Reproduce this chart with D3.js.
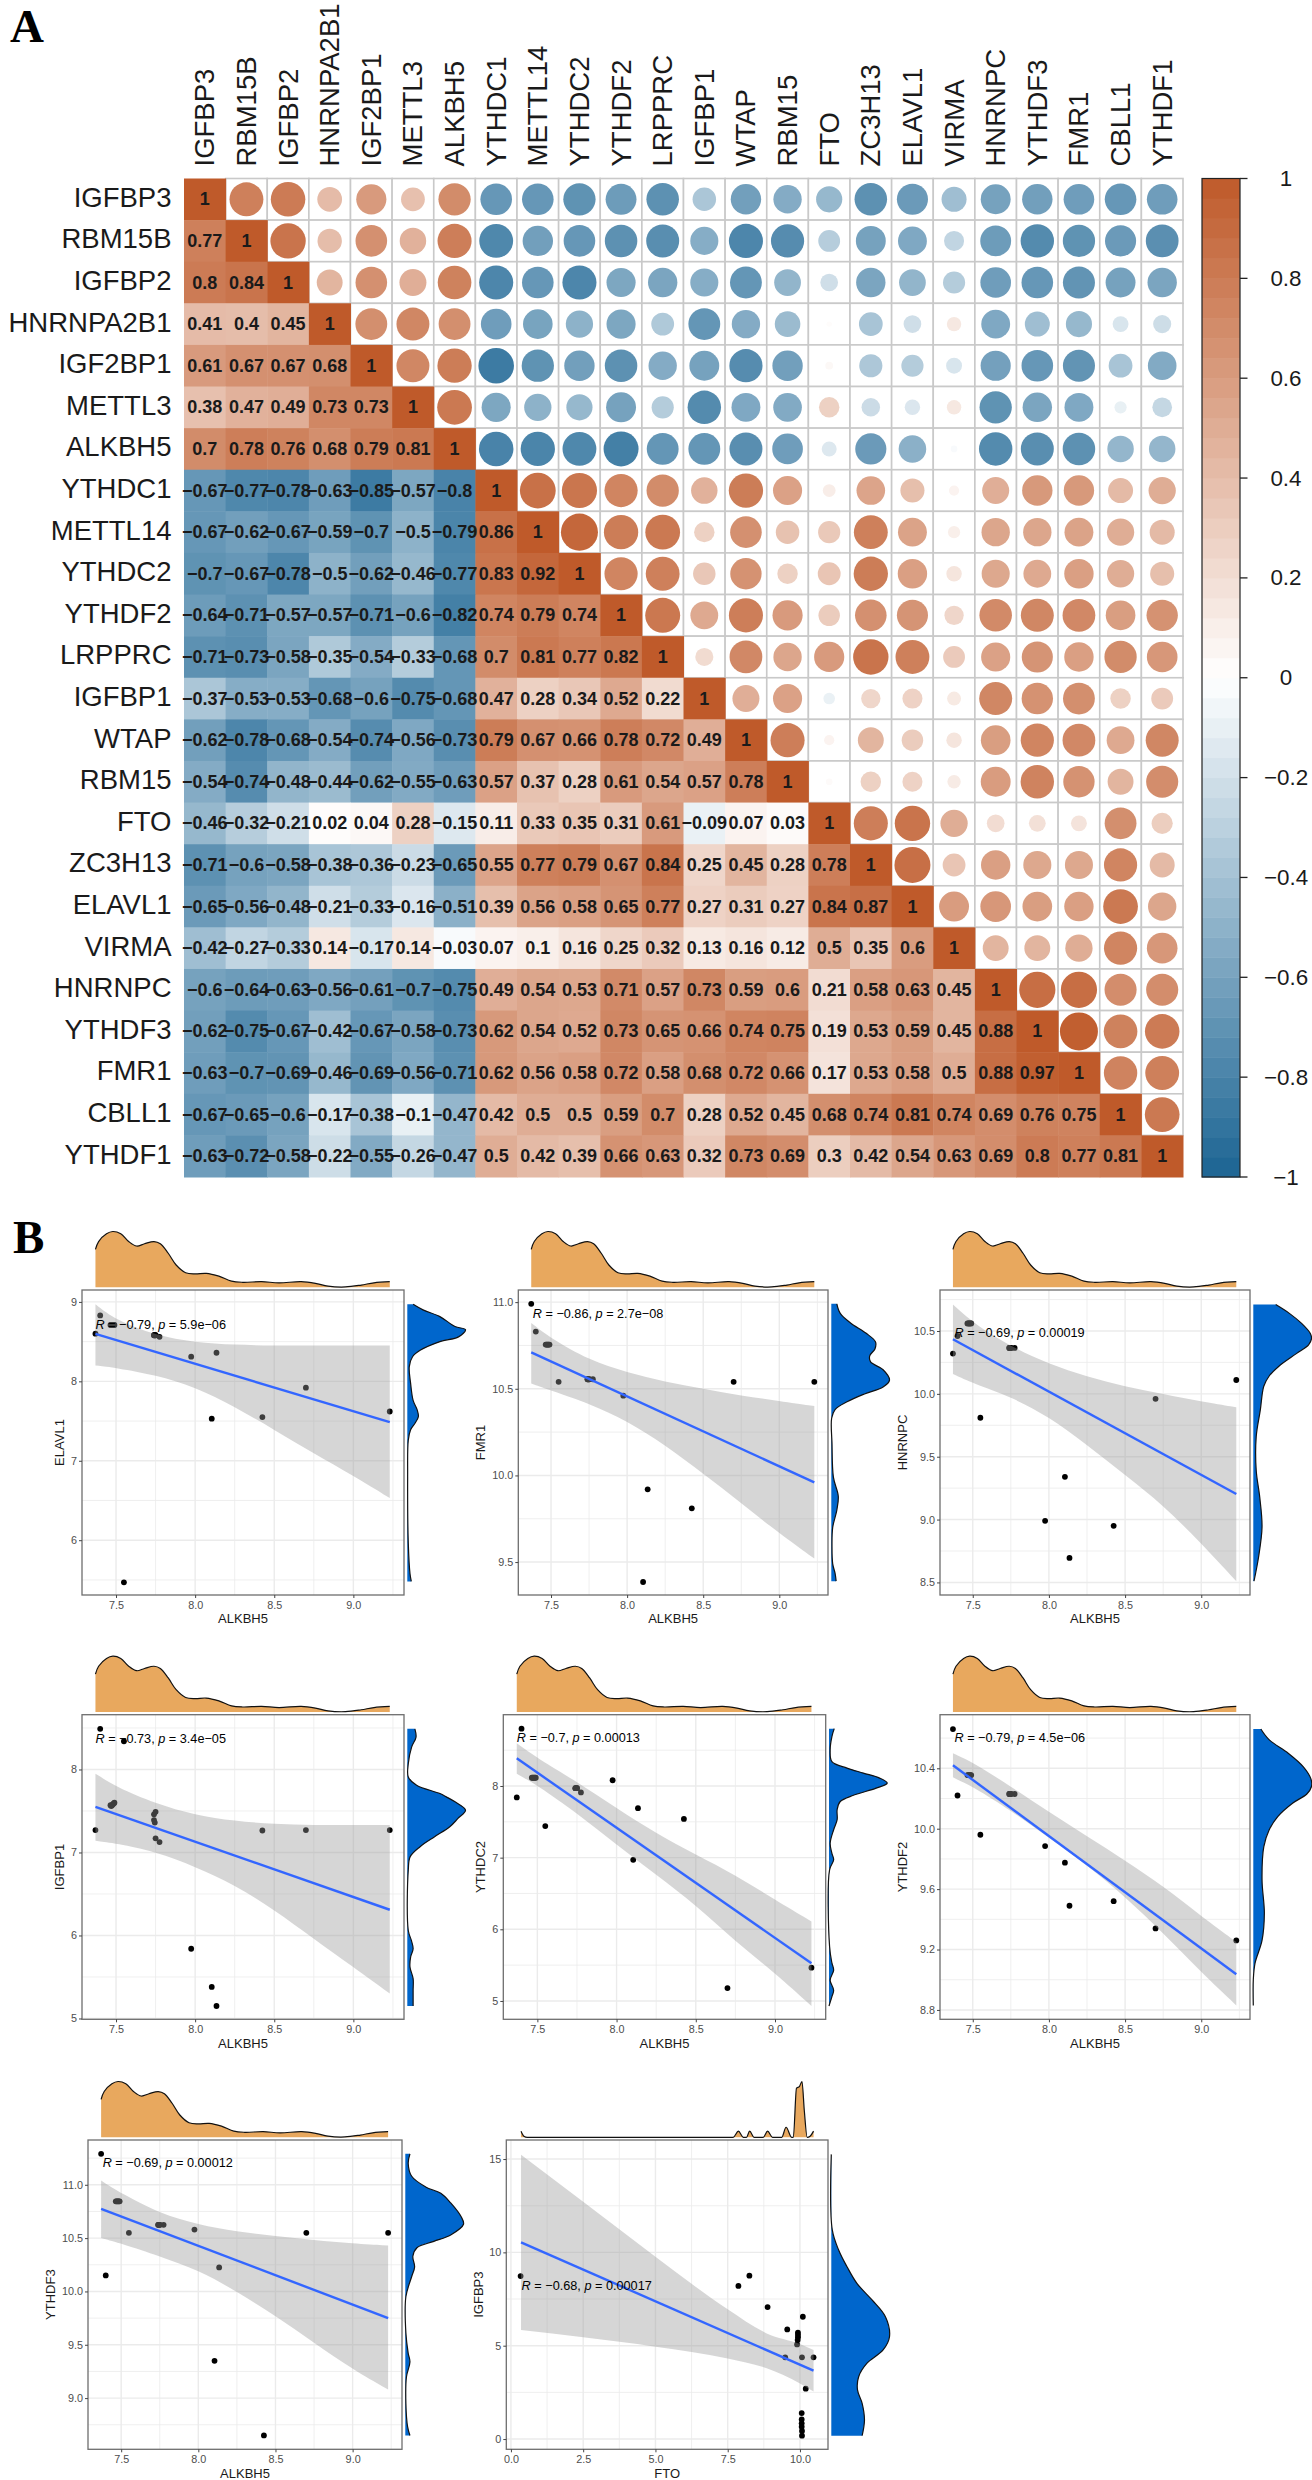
<!DOCTYPE html>
<html>
<head>
<meta charset="utf-8">
<script src="https://cdn.jsdelivr.net/npm/d3@7"></script>
<style>
body { margin: 0; background: #fff; }
text { font-family: "Liberation Sans", Arial, sans-serif; }
</style>
</head>
<body>
<svg id="chart" width="1312" height="2480"></svg>
<script>
// Panel A: genes and lower triangle of the correlation matrix
var genes = ["IGFBP3","RBM15B","IGFBP2","HNRNPA2B1","IGF2BP1","METTL3","ALKBH5","YTHDC1","METTL14","YTHDC2","YTHDF2","LRPPRC","IGFBP1","WTAP","RBM15","FTO","ZC3H13","ELAVL1","VIRMA","HNRNPC","YTHDF3","FMR1","CBLL1","YTHDF1"];
var corr = [
  [1],
  [0.77,1],
  [0.8,0.84,1],
  [0.41,0.4,0.45,1],
  [0.61,0.67,0.67,0.68,1],
  [0.38,0.47,0.49,0.73,0.73,1],
  [0.7,0.78,0.76,0.68,0.79,0.81,1],
  [-0.67,-0.77,-0.78,-0.63,-0.85,-0.57,-0.8,1],
  [-0.67,-0.62,-0.67,-0.59,-0.7,-0.5,-0.79,0.86,1],
  [-0.7,-0.67,-0.78,-0.5,-0.62,-0.46,-0.77,0.83,0.92,1],
  [-0.64,-0.71,-0.57,-0.57,-0.71,-0.6,-0.82,0.74,0.79,0.74,1],
  [-0.71,-0.73,-0.58,-0.35,-0.54,-0.33,-0.68,0.7,0.81,0.77,0.82,1],
  [-0.37,-0.53,-0.53,-0.68,-0.6,-0.75,-0.68,0.47,0.28,0.34,0.52,0.22,1],
  [-0.62,-0.78,-0.68,-0.54,-0.74,-0.56,-0.73,0.79,0.67,0.66,0.78,0.72,0.49,1],
  [-0.54,-0.74,-0.48,-0.44,-0.62,-0.55,-0.63,0.57,0.37,0.28,0.61,0.54,0.57,0.78,1],
  [-0.46,-0.32,-0.21,0.02,0.04,0.28,-0.15,0.11,0.33,0.35,0.31,0.61,-0.09,0.07,0.03,1],
  [-0.71,-0.6,-0.58,-0.38,-0.36,-0.23,-0.65,0.55,0.77,0.79,0.67,0.84,0.25,0.45,0.28,0.78,1],
  [-0.65,-0.56,-0.48,-0.21,-0.33,-0.16,-0.51,0.39,0.56,0.58,0.65,0.77,0.27,0.31,0.27,0.84,0.87,1],
  [-0.42,-0.27,-0.33,0.14,-0.17,0.14,-0.03,0.07,0.1,0.16,0.25,0.32,0.13,0.16,0.12,0.5,0.35,0.6,1],
  [-0.6,-0.64,-0.63,-0.56,-0.61,-0.7,-0.75,0.49,0.54,0.53,0.71,0.57,0.73,0.59,0.6,0.21,0.58,0.63,0.45,1],
  [-0.62,-0.75,-0.67,-0.42,-0.67,-0.58,-0.73,0.62,0.54,0.52,0.73,0.65,0.66,0.74,0.75,0.19,0.53,0.59,0.45,0.88,1],
  [-0.63,-0.7,-0.69,-0.46,-0.69,-0.56,-0.71,0.62,0.56,0.58,0.72,0.58,0.68,0.72,0.66,0.17,0.53,0.58,0.5,0.88,0.97,1],
  [-0.67,-0.65,-0.6,-0.17,-0.38,-0.1,-0.47,0.42,0.5,0.5,0.59,0.7,0.28,0.52,0.45,0.68,0.74,0.81,0.74,0.69,0.76,0.75,1],
  [-0.63,-0.72,-0.58,-0.22,-0.55,-0.26,-0.47,0.5,0.42,0.39,0.66,0.63,0.32,0.73,0.69,0.3,0.42,0.54,0.63,0.69,0.8,0.77,0.81,1]
];
var legendTicks = [1,0.8,0.6,0.4,0.2,0,-0.2,-0.4,-0.6,-0.8,-1];

// Panel B: expression of each sample, x is ALKBH5
var alkbh5 = [7.37,7.40,7.465,7.47,7.475,7.48,7.485,7.49,7.55,7.74,7.74,7.745,7.75,7.75,7.775,7.975,8.105,8.135,8.425,8.70,9.23];
var elavl1 = [8.60,8.83,8.71,8.71,8.71,8.71,8.71,8.71,5.47,8.58,8.58,8.58,8.58,8.58,8.56,8.31,7.53,8.36,7.55,7.92,7.62];
var fmr1 = [10.99,10.83,10.755,10.755,10.755,10.755,10.755,10.755,10.54,10.555,10.555,10.555,10.555,10.555,10.555,10.46,9.385,9.92,9.81,10.54,10.54];
var hnrnpc = [10.32,10.46,10.56,10.56,10.56,10.56,10.56,10.56,9.81,10.365,10.365,10.365,10.365,10.365,10.365,8.99,9.34,8.695,8.95,9.96,10.11];
var igfbp1 = [7.27,8.49,7.57,7.56,7.57,7.58,7.59,7.60,8.34,7.46,7.39,7.36,7.49,7.17,7.125,5.84,5.38,5.15,7.265,7.27,7.27];
var ythdc2 = [7.84,8.80,8.115,8.115,8.115,8.115,8.115,8.115,7.44,7.97,7.97,7.97,7.97,7.97,7.91,8.08,6.97,7.69,7.54,5.18,5.465];
var ythdf2 = [10.66,10.22,10.355,10.355,10.355,10.355,10.355,10.355,9.96,10.23,10.23,10.23,10.23,10.23,10.23,9.885,9.775,9.49,9.52,9.34,9.26];
var ythdf3 = [11.29,10.15,10.845,10.845,10.845,10.845,10.845,10.845,10.55,10.625,10.625,10.625,10.625,10.625,10.625,10.58,9.35,10.225,8.65,10.55,10.55];

// IGFBP3 against FTO
var ftoX = [0.335,7.87,8.25,8.88,10.1,9.56,9.93,9.93,9.93,9.92,9.9,9.49,10.07,10.47,10.2,10.06,10.06,10.06,10.06,10.07,10.07];
var igfbp3Y = [8.73,8.2,8.75,7.07,6.55,5.87,5.7,5.57,5.45,5.3,5.07,4.375,4.375,4.375,2.7,1.39,1.05,0.84,0.66,0.43,0.18];

// Regression lines, read at the two ends of x
var alkbh5Ends = [7.37,9.23];
var elavl1Fit = [8.597,7.487];
var fmr1Fit = [10.71,9.96];
var hnrnpcFit = [10.434,9.203];
var igfbp1Fit = [7.55,6.31];
var ythdc2Fit = [8.386,5.526];
var ythdf2Fit = [10.42,9.036];
var ythdf3Fit = [10.775,9.75];
var ftoEnds = [0.35,10.47];
var igfbp3Fit = [10.54,3.66];

// Confidence bands
var ciX = [7.37,7.5,7.75,8.0,8.25,8.5,8.75,9.0,9.23];
var elavl1Hi = [8.97,8.77,8.58,8.49,8.46,8.45,8.45,8.45,8.45];
var elavl1Lo = [8.20,8.17,8.08,7.93,7.68,7.39,7.09,6.81,6.53];
var fmr1Hi = [10.88,10.79,10.665,10.595,10.54,10.50,10.46,10.43,10.40];
var fmr1Lo = [10.53,10.49,10.415,10.315,10.175,10.01,9.84,9.665,9.52];
var hnrnpcHi = [10.71,10.566,10.375,10.237,10.137,10.057,9.999,9.938,9.893];
var hnrnpcLo = [10.158,10.084,9.977,9.818,9.593,9.354,9.115,8.81,8.51];
var igfbp1Hi = [7.95,7.79,7.59,7.45,7.38,7.34,7.33,7.33,7.33];
var igfbp1Lo = [7.14,7.11,7.01,6.83,6.61,6.31,5.96,5.62,5.30];
var ythdc2Hi = [8.595,8.386,8.06,7.69,7.34,7.04,6.76,6.41,6.11];
var ythdc2Lo = [8.17,8.01,7.62,7.18,6.76,6.34,5.83,5.39,4.93];
var ythdf2Hi = [10.50,10.44,10.28,10.11,9.95,9.79,9.62,9.42,9.25];
var ythdf2Lo = [10.34,10.28,10.12,9.94,9.76,9.55,9.31,9.05,8.83];
var ythdf3Hi = [11.04,10.92,10.73,10.625,10.56,10.52,10.48,10.45,10.43];
var ythdf3Lo = [10.5,10.45,10.33,10.20,10.0,9.77,9.52,9.27,9.08];
var ftoCiX = [0.35,2.5,5,7.5,8.85,10,10.47];
var igfbp3Hi = [15.23,12.71,9.77,6.95,5.66,5.09,4.77];
var igfbp3Lo = [5.84,5.45,4.95,4.32,3.79,2.98,2.54];

// Marginal densities on the top (share of the peak)
var topAlkbh5X = [7.37,7.39,7.44,7.48,7.53,7.58,7.63,7.68,7.74,7.78,7.83,7.88,7.94,8.0,8.07,8.15,8.23,8.30,8.42,8.53,8.67,8.76,8.84,8.95,9.05,9.13,9.23];
var topAlkbh5D = [0.68,0.82,0.96,1,0.96,0.82,0.74,0.78,0.82,0.78,0.61,0.40,0.26,0.24,0.25,0.20,0.11,0.09,0.10,0.08,0.10,0.07,0.02,0.006,0.04,0.08,0.10];
var topFtoX = [0.35,0.45,0.565,7.69,7.87,8.04,8.15,8.26,8.41,8.73,8.88,9.05,9.37,9.52,9.71,9.77,9.88,9.98,10.07,10.15,10.25,10.35,10.47];
var topFtoD = [0.11,0.02,0,0,0.11,0,0,0.11,0,0,0.11,0,0,0.18,0,0,0.88,0.91,1,0.48,0,0.02,0.11];

// Marginal densities on the right
var elavl1DensY = [8.97,8.90,8.815,8.69,8.65,8.56,8.50,8.39,8.31,8.185,7.975,7.76,7.64,7.555,7.47,7.39,7.26,6.80,5.96,5.58,5.48];
var elavl1Dens = [0.10,0.27,0.56,0.82,1,0.88,0.56,0.22,0.09,0.034,0.057,0.10,0.17,0.19,0.13,0.057,0.017,0.006,0.017,0.046,0.069];
var fmr1DensY = [10.99,10.935,10.88,10.82,10.77,10.73,10.69,10.655,10.61,10.55,10.51,10.47,10.425,10.38,10.33,10.185,9.99,9.88,9.8,9.70,9.59,9.49,9.435,9.39];
var fmr1Dens = [0.095,0.154,0.33,0.60,0.76,0.75,0.66,0.675,0.89,1,0.89,0.57,0.27,0.065,0.006,0.012,0.036,0.12,0.095,0.024,0.012,0.024,0.065,0.083];
var hnrnpcDensY = [10.71,10.64,10.56,10.48,10.44,10.39,10.32,10.22,10.14,10.06,9.87,9.66,9.39,9.18,8.94,8.70,8.51];
var hnrnpcDens = [0.385,0.62,0.83,0.98,1,0.95,0.74,0.44,0.27,0.18,0.12,0.05,0.05,0.11,0.15,0.09,0.012];
var igfbp1DensY = [8.49,8.39,8.27,8.07,7.91,7.81,7.71,7.67,7.61,7.51,7.41,7.31,7.19,7.07,6.95,6.79,6.06,5.94,5.84,5.74,5.62,5.48,5.34,5.15];
var igfbp1Dens = [0.13,0.15,0.074,0.017,0.017,0.16,0.56,0.67,0.82,1,0.87,0.73,0.47,0.22,0.05,0.017,0.017,0.07,0.10,0.057,0.046,0.10,0.10,0.10];
var ythdc2DensY = [8.80,8.69,8.50,8.34,8.25,8.18,8.11,8.04,7.97,7.87,7.78,7.67,7.53,7.39,7.20,7.06,6.97,6.83,5.76,5.53,5.43,5.29,5.15,5.06,4.93];
var ythdc2Dens = [0.09,0.05,0.02,0.05,0.31,0.59,0.87,1,0.81,0.42,0.19,0.14,0.14,0.08,0.02,0.05,0.08,0.01,0.01,0.05,0.08,0.02,0.08,0.05,0];
var ythdf2DensY = [10.66,10.59,10.50,10.41,10.33,10.28,10.23,10.17,10.08,9.99,9.88,9.66,9.44,9.26,9.11,9.00,8.83];
var ythdf2Dens = [0.13,0.27,0.60,0.86,0.99,1,0.92,0.68,0.42,0.27,0.18,0.15,0.19,0.15,0.03,0,0];
var ythdf3DensY = [11.29,11.20,11.08,10.98,10.92,10.83,10.70,10.63,10.53,10.47,10.41,10.33,10.23,10.14,9.95,9.61,9.42,9.34,9.20,8.95,8.73,8.65];
var ythdf3Dens = [0.08,0.05,0.11,0.35,0.61,0.78,0.96,1,0.78,0.49,0.20,0.13,0.16,0.11,0.01,0.01,0.05,0.08,0.02,0.01,0.04,0.08];
var igfbp3DensY = [15.25,11.2,10.1,9.23,8.34,7.45,6.55,5.48,4.77,4.05,3.34,2.63,1.91,1.02,0.18];
var igfbp3Dens = [0,0.017,0.13,0.27,0.44,0.70,0.93,1,0.89,0.61,0.47,0.45,0.53,0.57,0.53];

// Axis ticks
var alkbh5Ticks = [7.5,8.0,8.5,9.0];
var ftoTicks = [0,2.5,5,7.5,10];

var svg = d3.select("#chart");
var textColor = "#1a1a1a";

// Shared colour ramp for the matrix and the legend
var corrColor = d3.scaleLinear().domain([-1,0,1]).range(["#1B6493","#FFFFFF","#BF5A2A"]);

drawLetter("A",10,42);
drawLetter("B",13,1253);
drawMatrix();
drawLegend();

// Each scatter panel is listed once here, with its box on the page
var panels = [
  {name:"ELAVL1",x:alkbh5,y:elavl1,fitX:alkbh5Ends,fit:elavl1Fit,bandX:ciX,hi:elavl1Hi,lo:elavl1Lo,topX:topAlkbh5X,topD:topAlkbh5D,sideY:elavl1DensY,side:elavl1Dens,
   xTitle:"ALKBH5",xDom:[7.285,9.32],yDom:[5.31,9.15],xTicks:alkbh5Ticks,yTicks:[6,7,8,9],yFmt:"d",xFmt:".1f",r:"\u22120.79",p:"5.9e\u221206",label:[7.37,8.71],
   box:[82,404,1290,1595],titleX:59.3,titleY:1618},
  {name:"FMR1",x:alkbh5,y:fmr1,fitX:alkbh5Ends,fit:fmr1Fit,bandX:ciX,hi:fmr1Hi,lo:fmr1Lo,topX:topAlkbh5X,topD:topAlkbh5D,sideY:fmr1DensY,side:fmr1Dens,
   xTitle:"ALKBH5",xDom:[7.285,9.32],yDom:[9.31,11.07],xTicks:alkbh5Ticks,yTicks:[9.5,10,10.5,11],yFmt:".1f",xFmt:".1f",r:"\u22120.86",p:"2.7e\u221208",label:[7.38,10.93],
   box:[518.3,828,1290,1595],titleX:480.7,titleY:1618},
  {name:"HNRNPC",x:alkbh5,y:hnrnpc,fitX:alkbh5Ends,fit:hnrnpcFit,bandX:ciX,hi:hnrnpcHi,lo:hnrnpcLo,topX:topAlkbh5X,topD:topAlkbh5D,sideY:hnrnpcDensY,side:hnrnpcDens,
   xTitle:"ALKBH5",xDom:[7.285,9.32],yDom:[8.40,10.826],xTicks:alkbh5Ticks,yTicks:[8.5,9,9.5,10,10.5],yFmt:".1f",xFmt:".1f",r:"\u22120.69",p:"0.00019",label:[7.38,10.48],
   box:[940,1250,1290,1595],titleX:902.7,titleY:1618},
  {name:"IGFBP1",x:alkbh5,y:igfbp1,fitX:alkbh5Ends,fit:igfbp1Fit,bandX:ciX,hi:igfbp1Hi,lo:igfbp1Lo,topX:topAlkbh5X,topD:topAlkbh5D,sideY:igfbp1DensY,side:igfbp1Dens,
   xTitle:"ALKBH5",xDom:[7.285,9.32],yDom:[4.99,8.66],xTicks:alkbh5Ticks,yTicks:[5,6,7,8],yFmt:"d",xFmt:".1f",r:"\u22120.73",p:"3.4e\u221205",label:[7.37,8.37],
   box:[82,404,1714.7,2019.3],titleX:59.3,titleY:2043},
  {name:"YTHDC2",x:alkbh5,y:ythdc2,fitX:alkbh5Ends,fit:ythdc2Fit,bandX:ciX,hi:ythdc2Hi,lo:ythdc2Lo,topX:topAlkbh5X,topD:topAlkbh5D,sideY:ythdc2DensY,side:ythdc2Dens,
   xTitle:"ALKBH5",xDom:[7.285,9.32],yDom:[4.744,8.995],xTicks:alkbh5Ticks,yTicks:[5,6,7,8],yFmt:"d",xFmt:".1f",r:"\u22120.7",p:"0.00013",label:[7.37,8.665],
   box:[503.3,825.7,1714.7,2019.3],titleX:480.7,titleY:2043},
  {name:"YTHDF2",x:alkbh5,y:ythdf2,fitX:alkbh5Ends,fit:ythdf2Fit,bandX:ciX,hi:ythdf2Hi,lo:ythdf2Lo,topX:topAlkbh5X,topD:topAlkbh5D,sideY:ythdf2DensY,side:ythdf2Dens,
   xTitle:"ALKBH5",xDom:[7.285,9.32],yDom:[8.738,10.755],xTicks:alkbh5Ticks,yTicks:[8.8,9.2,9.6,10,10.4],yFmt:".1f",xFmt:".1f",r:"\u22120.79",p:"4.5e\u221206",label:[7.38,10.6],
   box:[940,1250,1714.7,2019.3],titleX:902.7,titleY:2043},
  {name:"YTHDF3",x:alkbh5,y:ythdf3,fitX:alkbh5Ends,fit:ythdf3Fit,bandX:ciX,hi:ythdf3Hi,lo:ythdf3Lo,topX:topAlkbh5X,topD:topAlkbh5D,sideY:ythdf3DensY,side:ythdf3Dens,
   xTitle:"ALKBH5",xDom:[7.285,9.32],yDom:[8.52,11.42],xTicks:alkbh5Ticks,yTicks:[9,9.5,10,10.5,11],yFmt:".1f",xFmt:".1f",r:"\u22120.69",p:"0.00012",label:[7.38,11.2],
   box:[88,402,2140,2449.3],titleX:50,titleY:2473},
  {name:"IGFBP3",x:ftoX,y:igfbp3Y,fitX:ftoEnds,fit:igfbp3Fit,bandX:ftoCiX,hi:igfbp3Hi,lo:igfbp3Lo,topX:topFtoX,topD:topFtoD,sideY:igfbp3DensY,side:igfbp3Dens,spiky:true,
   xTitle:"FTO",xDom:[-0.16,10.97],yDom:[-0.55,16.02],xTicks:ftoTicks,yTicks:[0,5,10,15],yFmt:"d",xFmt:".1f",r:"\u22120.68",p:"0.00017",label:[0.37,8.21],
   box:[506.3,828,2140,2449.3],titleX:478.3,titleY:2473}
];

panels.forEach(drawPanel);

function drawLetter(value,x,y) {
    svg.append("text")
       .attr("x",x)
       .attr("y",y)
       .attr("font-size",47)
       .attr("font-weight","bold")
       .style("font-family","'Liberation Serif', serif")
       .attr("fill","#000")
       .text(value);
}

function cellText(v) {
    return String(v).replace("-","\u2212");
}

function drawMatrix() {
    var x = d3.scaleBand().domain(genes).range([184,1183]);
    var y = d3.scaleBand().domain(genes).range([178.5,1177]);
    var radius = d3.scaleSqrt().domain([0,1]).range([0,19.3]);
    var g = svg.append("g").attr("id","matrix");

    // Flatten the triangle, the upper half gets the same values as circles
    var lower = [];
    var upper = [];
    corr.forEach(function(row,i) {
        row.forEach(function(v,j) {
            lower.push({row:genes[i],col:genes[j],v:v});
            if (j<i) upper.push({row:genes[j],col:genes[i],v:v});
        });
    });

    g.selectAll("rect.up").data(upper).join("rect")
     .attr("class","up")
     .attr("x",function(d){return x(d.col);})
     .attr("y",function(d){return y(d.row);})
     .attr("width",x.bandwidth())
     .attr("height",y.bandwidth())
     .attr("fill","#fff")
     .attr("stroke","#c9c9c9")
     .attr("stroke-width",1.6);

    g.selectAll("circle").data(upper).join("circle")
     .attr("cx",function(d){return x(d.col)+x.bandwidth()/2;})
     .attr("cy",function(d){return y(d.row)+y.bandwidth()/2;})
     .attr("r",function(d){return radius(Math.abs(d.v));})
     .attr("fill",function(d){return corrColor(d.v);});

    g.selectAll("rect.low").data(lower).join("rect")
     .attr("class","low")
     .attr("x",function(d){return x(d.col);})
     .attr("y",function(d){return y(d.row);})
     .attr("width",x.bandwidth()+0.5)
     .attr("height",y.bandwidth()+0.5)
     .attr("fill",function(d){return corrColor(d.v);});

    g.selectAll("text.val").data(lower).join("text")
     .attr("class","val")
     .attr("x",function(d){return x(d.col)+x.bandwidth()/2;})
     .attr("y",function(d){return y(d.row)+y.bandwidth()/2;})
     .attr("text-anchor","middle")
     .attr("dominant-baseline","central")
     .attr("font-size",18)
     .attr("font-weight","bold")
     .attr("fill",textColor)
     .text(function(d){return cellText(d.v);});

    // Row labels on the left, column labels rotated on top
    g.selectAll("text.rowLab").data(genes).join("text")
     .attr("class","rowLab")
     .attr("x",171.5)
     .attr("y",function(d){return y(d)+y.bandwidth()/2-2;})
     .attr("text-anchor","end")
     .attr("dominant-baseline","central")
     .attr("font-size",27.5)
     .attr("fill",textColor)
     .text(function(d){return d;});

    g.selectAll("text.colLab").data(genes).join("text")
     .attr("class","colLab")
     .attr("transform",function(d){return "translate("+(x(d)+x.bandwidth()/2)+",166.5)rotate(-90)";})
     .attr("dominant-baseline","central")
     .attr("font-size",27.5)
     .attr("fill",textColor)
     .text(function(d){return d;});
}

function drawLegend() {
    var y = d3.scaleLinear().domain([1,-1]).range([178.5,1177]);
    var g = svg.append("g").attr("id","legend");
    var bands = d3.range(-1,1,0.04);

    g.selectAll("rect").data(bands).join("rect")
     .attr("x",1202)
     .attr("y",function(d){return y(d+0.04);})
     .attr("width",38)
     .attr("height",function(d){return y(d)-y(d+0.04)+0.5;})
     .attr("fill",function(d){return corrColor(d+0.02);});

    g.append("rect")
     .attr("x",1202)
     .attr("y",178.5)
     .attr("width",38)
     .attr("height",998.5)
     .attr("fill","none")
     .attr("stroke","#222")
     .attr("stroke-width",1.2);

    g.selectAll("line").data(legendTicks).join("line")
     .attr("x1",1240)
     .attr("x2",1247.5)
     .attr("y1",function(d){return y(d);})
     .attr("y2",function(d){return y(d);})
     .attr("stroke","#222")
     .attr("stroke-width",1.3);

    g.selectAll("text").data(legendTicks).join("text")
     .attr("x",1286)
     .attr("y",function(d){return y(d);})
     .attr("text-anchor","middle")
     .attr("dominant-baseline","central")
     .attr("font-size",22.4)
     .attr("fill",textColor)
     .text(function(d){return cellText(d);});
}

function drawPanel(p) {
    var left=p.box[0], right=p.box[1], top=p.box[2], bottom=p.box[3];
    var x = d3.scaleLinear().domain(p.xDom).range([left,right]);
    var y = d3.scaleLinear().domain(p.yDom).range([bottom,top]);
    var g = svg.append("g").attr("id","panel"+p.name);

    // Grid, minor lines sit half way between the ticks
    var xStep = p.xTicks[1]-p.xTicks[0];
    var yStep = p.yTicks[1]-p.yTicks[0];
    var xMinor = d3.range(p.xTicks[0]-xStep/2,p.xDom[1],xStep).filter(function(d){return d>p.xDom[0];});
    var yMinor = d3.range(p.yTicks[0]-yStep/2,p.yDom[1],yStep).filter(function(d){return d>p.yDom[0];});

    vLines(g,xMinor,x,top,bottom,0.8);
    hLines(g,yMinor,y,left,right,0.8);
    vLines(g,p.xTicks,x,top,bottom,1.4);
    hLines(g,p.yTicks,y,left,right,1.4);

    // Points go under the band, that is why they look grey inside it
    var pts = p.x.map(function(d,i){return [d,p.y[i]];});
    g.selectAll("circle").data(pts).join("circle")
     .attr("cx",function(d){return x(d[0]);})
     .attr("cy",function(d){return y(d[1]);})
     .attr("r",2.9)
     .attr("fill","#000");

    var band = d3.area()
                 .x(function(d,i){return x(p.bandX[i]);})
                 .y0(function(d,i){return y(p.lo[i]);})
                 .y1(function(d){return y(d);})
                 .curve(p.spiky ? d3.curveMonotoneX : d3.curveBasis);
    g.append("path").attr("d",band(p.hi)).attr("fill","#999").attr("fill-opacity",0.4);

    var fitLine = d3.line()
                    .x(function(d,i){return x(p.fitX[i]);})
                    .y(function(d){return y(d);});
    g.append("path").attr("d",fitLine(p.fit)).attr("fill","none").attr("stroke","#3366FF").attr("stroke-width",2.4);

    g.append("rect")
     .attr("x",left).attr("y",top)
     .attr("width",right-left).attr("height",bottom-top)
     .attr("fill","none")
     .attr("stroke","#6e6e6e")
     .attr("stroke-width",1.3);

    // Axes
    var xAxis = g.append("g")
                 .attr("transform","translate(0,"+bottom+")")
                 .call(d3.axisBottom(x).tickValues(p.xTicks).tickFormat(d3.format(p.xFmt)).tickSize(3).tickPadding(3));
    var yAxis = g.append("g")
                 .attr("transform","translate("+left+",0)")
                 .call(d3.axisLeft(y).tickValues(p.yTicks).tickFormat(d3.format(p.yFmt)).tickSize(3).tickPadding(2));
    [xAxis,yAxis].forEach(function(a) {
        a.select(".domain").remove();
        a.selectAll("line").attr("stroke","#444");
        a.selectAll("text").attr("fill","#4d4d4d").attr("font-size",10.8).style("font-family","'Liberation Sans', sans-serif");
    });

    g.append("text")
     .attr("x",(left+right)/2)
     .attr("y",p.titleY)
     .attr("text-anchor","middle")
     .attr("dominant-baseline","central")
     .attr("font-size",13)
     .attr("fill",textColor)
     .text(p.xTitle);

    g.append("text")
     .attr("transform","translate("+p.titleX+","+((top+bottom)/2)+")rotate(-90)")
     .attr("text-anchor","middle")
     .attr("dominant-baseline","central")
     .attr("font-size",13)
     .attr("fill",textColor)
     .text(p.name);

    // R and p label
    var label = g.append("text")
                 .attr("x",x(p.label[0]))
                 .attr("y",y(p.label[1]))
                 .attr("dominant-baseline","central")
                 .attr("font-size",12.7)
                 .attr("fill","#000");
    label.append("tspan").attr("font-style","italic").text("R");
    label.append("tspan").text(" = "+p.r+", ");
    label.append("tspan").attr("font-style","italic").text("p");
    label.append("tspan").text(" = "+p.p);

    // Top density, the FTO one has narrow spikes that a smooth curve would overshoot
    var topCurve = p.spiky ? d3.curveMonotoneX : d3.curveCatmullRom;
    var topY = d3.scaleLinear().domain([0,1]).range([top-2.7,top-58.5]);
    var topArea = d3.area()
                    .x(function(d,i){return x(p.topX[i]);})
                    .y0(topY(0))
                    .y1(function(d){return topY(d);})
                    .curve(topCurve);
    var topLine = d3.line()
                    .x(function(d,i){return x(p.topX[i]);})
                    .y(function(d){return topY(d);})
                    .curve(topCurve);
    g.append("path").attr("d",topArea(p.topD)).attr("fill","#E8A85E");
    g.append("path").attr("d",topLine(p.topD)).attr("fill","none").attr("stroke","#111").attr("stroke-width",1.2);

    // Right density
    var sideX = d3.scaleLinear().domain([0,1]).range([right+3.3,right+61.5]);
    var sideArea = d3.area()
                     .y(function(d,i){return y(p.sideY[i]);})
                     .x0(sideX(0))
                     .x1(function(d){return sideX(d);})
                     .curve(d3.curveCatmullRom);
    var sideLine = d3.line()
                     .y(function(d,i){return y(p.sideY[i]);})
                     .x(function(d){return sideX(d);})
                     .curve(d3.curveCatmullRom);
    g.append("path").attr("d",sideArea(p.side)).attr("fill","#0066CC");
    g.append("path").attr("d",sideLine(p.side)).attr("fill","none").attr("stroke","#111").attr("stroke-width",1.2);
}

function vLines(g,values,x,top,bottom,w) {
    g.selectAll(null).data(values).join("line")
     .attr("x1",function(d){return x(d);})
     .attr("x2",function(d){return x(d);})
     .attr("y1",top)
     .attr("y2",bottom)
     .attr("stroke","#ebebeb")
     .attr("stroke-width",w);
}

function hLines(g,values,y,left,right,w) {
    g.selectAll(null).data(values).join("line")
     .attr("x1",left)
     .attr("x2",right)
     .attr("y1",function(d){return y(d);})
     .attr("y2",function(d){return y(d);})
     .attr("stroke","#ebebeb")
     .attr("stroke-width",w);
}
</script>
</body>
</html>
